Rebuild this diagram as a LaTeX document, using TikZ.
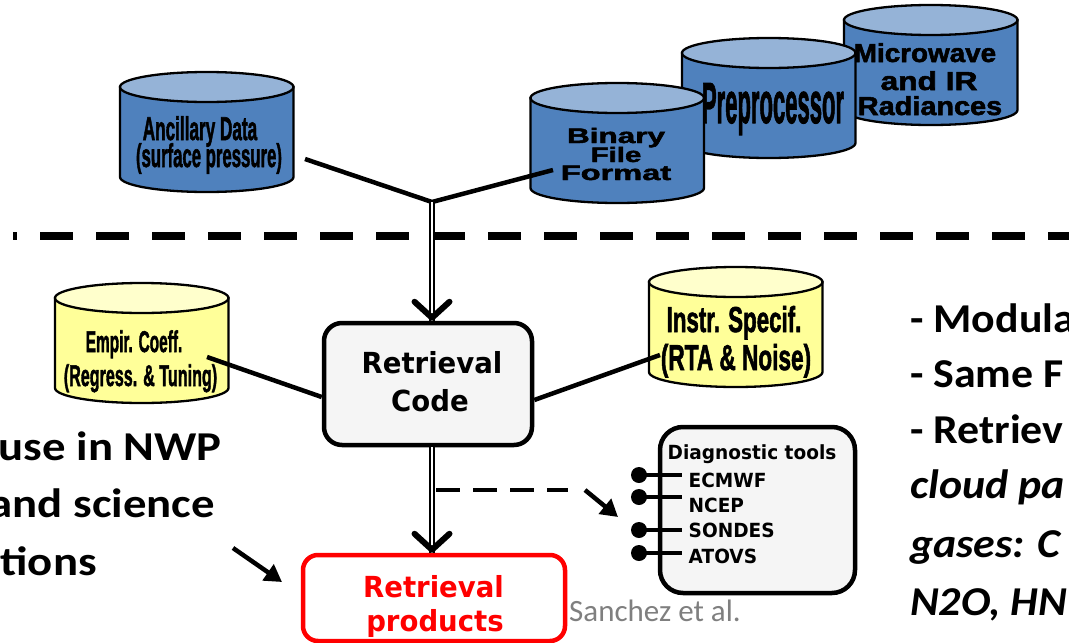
\documentclass[tikz,border=0pt]{standalone}
\usepackage{fontspec}
\setmainfont{Carlito}
\newfontfamily\dv{DejaVu Sans}[FakeStretch=0.95]
\newfontfamily\lib{Liberation Sans}[BoldFeatures={FakeBold=2}]
\usepackage{graphicx}
\usetikzlibrary{arrows.meta,calc}
\definecolor{drumblue}{HTML}{4F81BD}
\definecolor{drumbluetop}{HTML}{95B3D7}
\definecolor{drumyel}{HTML}{FFFF99}
\definecolor{drumyeltop}{HTML}{FFFFCC}
\definecolor{boxgray}{HTML}{F5F5F5}
\definecolor{credit}{HTML}{7F7F7F}
\newcommand\sq[3]{\scalebox{#1}[1]{\fontsize{#2}{#2}\selectfont #3}}
% #1 name, #2 left x, #3 top y, #4 body colour, #5 top colour
\newcommand\drum[5]{%
  \pgfmathsetmacro\dL{#2}\pgfmathsetmacro\dR{#2+173.5}\pgfmathsetmacro\dC{#2+86.75}%
  \pgfmathsetmacro\dT{#3+15}\pgfmathsetmacro\dB{#3+105}\pgfmathsetmacro\dM{#3+60}%
  \draw[drumline,fill=#4] (\dL,\dT) -- (\dL,\dB) arc[start angle=180,end angle=0,x radius=86.75,y radius=15] -- (\dR,\dT) -- cycle;
  \draw[drumline,fill=#5] (\dC,\dT) ellipse[x radius=86.75,y radius=15];
  \node[inner sep=0pt,minimum width=173.5pt,minimum height=120pt] (#1) at (\dC,\dM) {};
}
\begin{document}
\begin{tikzpicture}[x=1pt,y=-1pt,
  drumline/.style={draw=black,line width=2.3pt},
  txt/.style={inner sep=0pt,anchor=base},
  conn/.style={draw=black,line width=4.5pt,line join=miter},
  dbl/.style={draw=black,line width=1.4pt,double=white,double distance=2.6pt},
  chev/.style={draw=black,line width=6pt,line cap=round,line join=round},
  sep/.style={draw=black,line width=7.5pt,dash pattern=on 33pt off 23pt,dash phase=29pt},
  tapline/.style={draw=black,line width=4.5pt,dash pattern=on 24pt off 13pt},
  fatarrow/.style={draw=black,line width=4.5pt,-{Triangle[length=17pt,width=19pt]}},
  pinline/.style={draw=black,line width=4pt},
  rbox/.style={draw=black,line width=4.5pt,fill=boxgray},
  bigtext/.style={inner sep=0pt,font=\fontsize{41}{41}\selectfont\bfseries},
  sanstext/.style={inner sep=0pt,anchor=base,font=\dv\bfseries\fontsize{29}{29}\selectfont},
  diagtext/.style={inner sep=0pt,font=\dv\bfseries\fontsize{19.5}{19.5}\selectfont},
]
\useasboundingbox (0,0) rectangle (1069,643);
\clip (0,0) rectangle (1069,643);

% separator
\draw[sep] (13,236) -- (1080,236);

% data drums
\drum{mw}{844}{5}{drumblue}{drumbluetop}
\drum{pre}{682}{38}{drumblue}{drumbluetop}
\drum{bin}{530.5}{83}{drumblue}{drumbluetop}
\drum{anc}{120}{72}{drumblue}{drumbluetop}
\drum{emp}{55}{283}{drumyel}{drumyeltop}
\drum{ins}{649}{267}{drumyel}{drumyeltop}

\node[txt] (mw1) at (925,62) {\lib\bfseries\sq{1.07}{26}{Microwave}};
\node[txt] (mw2) at (929,90) {\lib\bfseries\sq{1.22}{26}{and IR}};
\node[txt] (mw3) at (930,115) {\lib\bfseries\sq{1.11}{26}{Radiances}};
\node[txt] (pre1) at (773,123) {\lib\bfseries\sq{0.38}{58}{Preprocessor}};
\node[txt] (bin1) at (616,143) {\lib\bfseries\sq{1.5}{21}{Binary}};
\node[txt] (bin2) at (616,162) {\lib\bfseries\sq{1.4}{21}{File}};
\node[txt] (bin3) at (616,180) {\lib\bfseries\sq{1.55}{21}{Format}};
\node[txt] (anc1) at (200,140) {\lib\bfseries\sq{0.52}{33}{Ancillary Data}};
\node[txt] (anc2) at (209,167) {\lib\bfseries\sq{0.507}{33}{(surface pressure)}};
\node[txt] (emp1) at (134,352) {\lib\bfseries\sq{0.514}{30}{Empir. Coeff.}};
\node[txt] (emp2) at (140.5,386) {\lib\bfseries\sq{0.537}{30}{(Regress. \& Tuning)}};
\node[txt] (ins1) at (734,332) {\lib\bfseries\sq{0.62}{36}{Instr. Specif.}};
\node[txt] (ins2) at (736,370) {\lib\bfseries\sq{0.628}{36}{(RTA \& Noise)}};

% boxes
\node[rbox,rounded corners=18pt,minimum width=208pt,minimum height=122pt] (rc) at (428,384) {};
\node[sanstext] (rct1) at (432,373) {Retrieval};
\node[sanstext] (rct2) at (430,411) {Code};

\node[draw=red,line width=4.5pt,fill=white,rounded corners=15pt,minimum width=262pt,minimum height=86pt] (prod) at (434,598) {};
\node[sanstext,text=red] (pt1) at (433.5,597) {Retrieval};
\node[sanstext,text=red] (pt2) at (435,631) {products};

\node[rbox,rounded corners=23pt,minimum width=195pt,minimum height=166pt] (diag) at (757.5,510) {};
\node[diagtext,anchor=base] (dt) at (752,459) {Diagnostic tools};
\foreach \n/\t/\yb/\yp in {d1/ECMWF/487/475,d2/NCEP/512/497,d3/SONDES/537/530,d4/ATOVS/563/553}{
  \node[diagtext,anchor=base west] (\n) at (688.5,\yb) {\t};
  \coordinate (\n pin) at (639,\yp);
  \coordinate (\n end) at (682,\yp);
  \fill (\n pin) circle[radius=8];
  \draw[pinline] (\n pin) -- (\n end);
}

% connectors
\coordinate (j) at (432,202);
\coordinate (ancOut) at (305,159);
\coordinate (binIn) at (553,170);
\draw[conn] (ancOut) -- (j) -- (binIn);
\draw[dbl] (j) -- (j |- rc.north);
\draw[chev] ($(j |- rc.north)+(-17.5,-19)$) -- ($(j |- rc.north)+(0,-3)$) -- ($(j |- rc.north)+(17.5,-19)$);

\coordinate (empOut) at (207,357);
\coordinate (insOut) at (660,355);
\draw[conn] (empOut) -- ($(rc.west)+(0,13)$);
\draw[conn] (insOut) -- ($(rc.east)+(0,16)$);

\draw[dbl] (rc.south -| j) -- (prod.north -| j);
\draw[chev] ($(prod.north -| j)+(-17.5,-19)$) -- ($(prod.north -| j)+(0,-3)$) -- ($(prod.north -| j)+(17.5,-19)$);

\coordinate (tap) at (436,490);
\coordinate (tapEnd) at (568,490);
\coordinate (aS) at (585,490);
\coordinate (aE) at (618,517);
\draw[tapline] (tap) -- (tapEnd);
\draw[fatarrow] (aS) -- (aE);

\coordinate (la1) at (233,548);
\coordinate (la2) at (282,582);
\draw[fatarrow] (la1) -- (la2);

% side texts
\node[bigtext,anchor=base east] (l1) at (222,460) {\scalebox{1.14}[1]{use in NWP}};
\node[bigtext,anchor=base east] (l2) at (215,517) {\scalebox{1.14}[1]{and science}};
\node[bigtext,anchor=base east] (l3) at (97,575) {\scalebox{1.14}[1]{tions}};

\node[bigtext,anchor=base west] (r1) at (910,332) {\scalebox{1.07}[1]{- Modula}};
\node[bigtext,anchor=base west] (r2) at (910,387) {\scalebox{1.07}[1]{- Same F}};
\node[bigtext,anchor=base west] (r3) at (910,443) {\scalebox{1.07}[1]{- Retriev}};
\node[bigtext,anchor=base west,font=\fontsize{41}{41}\selectfont\bfseries\itshape] (r4) at (910,498) {\scalebox{1.07}[1]{cloud pa}};
\node[bigtext,anchor=base west,font=\fontsize{41}{41}\selectfont\bfseries\itshape] (r5) at (910,557) {\scalebox{1.07}[1]{gases: C}};
\node[bigtext,anchor=base west,font=\fontsize{41}{41}\selectfont\bfseries\itshape] (r6) at (910,615) {\scalebox{1.07}[1]{N2O, HN}};

\node[inner sep=0pt,anchor=base west,text=credit,font=\fontsize{31}{31}\selectfont] (cr) at (569,621) {Sanchez et al.};
\end{tikzpicture}
\end{document}
